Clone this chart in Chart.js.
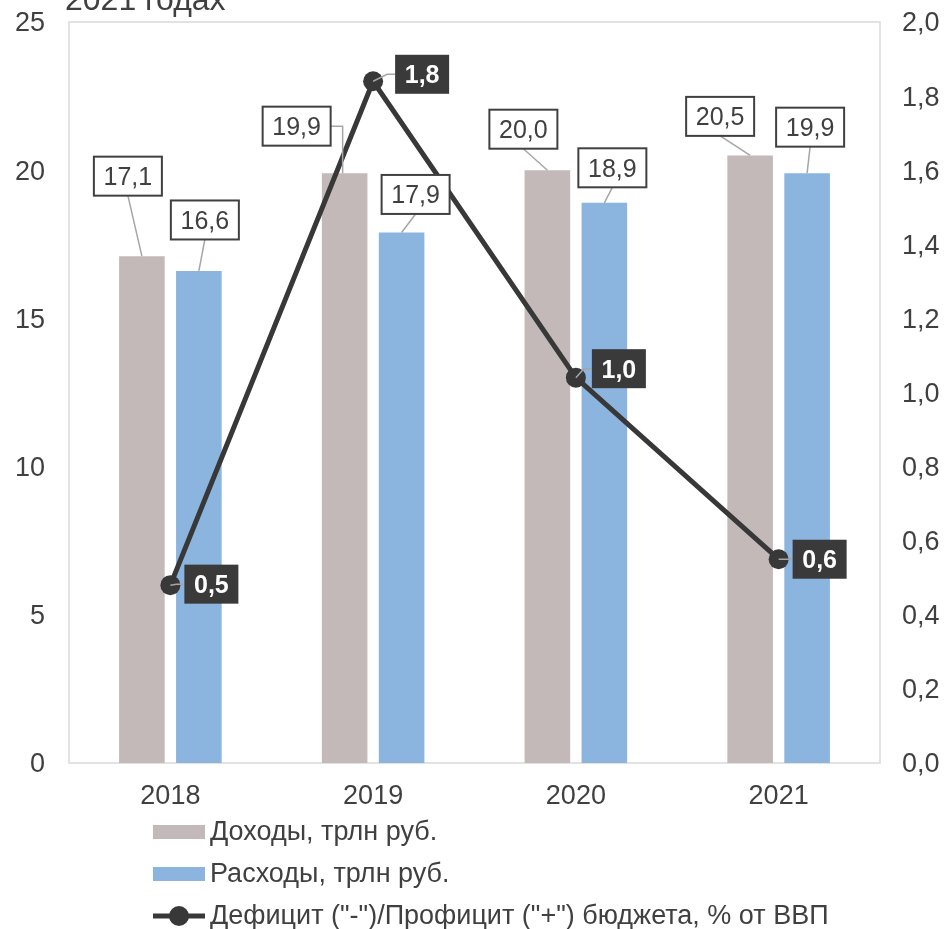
<!DOCTYPE html>
<html>
<head>
<meta charset="utf-8">
<script src="https://cdn.jsdelivr.net/npm/chart.js@4/dist/chart.umd.min.js"></script>
<style>
  html, body { margin:0; padding:0; background:#fff; }
  canvas { display:block; }
</style>
</head>
<body>
<canvas id="chart" width="945" height="929"></canvas>
<script>
// data
const years = ['2018', '2019', '2020', '2021'];
const revenue = [17.1, 19.9, 20.0, 20.5];      // Доходы, трлн руб.
const spending = [16.6, 17.9, 18.9, 19.9];     // Расходы, трлн руб.
const balance = [0.48, 1.84, 1.04, 0.55];      // % от ВВП
const leftTicks = [0, 5, 10, 15, 20, 25];
const rightTicks = [0, 0.2, 0.4, 0.6, 0.8, 1.0, 1.2, 1.4, 1.6, 1.8, 2.0];

const seriesNames = ['Доходы, трлн руб.', 'Расходы, трлн руб.', 'Дефицит ("-")/Профицит ("+") бюджета, % от ВВП'];

// label box offsets (box centre relative to the mark)
const revenueLabelShift = [[-14, -80], [-48, -47], [-24, -41], [-30, -39]];
const spendingLabelShift = [[6, -51], [14, -38], [8, -35], [3, -46]];
const balanceLabelShift = [[41, -1], [49, -7], [43, -9], [41, 0]];

const FONT = '"Liberation Sans", Arial, sans-serif';
const TEXT = '#404040';
const comma = v => v.toFixed(1).replace('.', ',');

// plot frame + cut title
const framePlugin = {
  id: 'frame',
  beforeDatasetsDraw(chart){
    const {ctx, chartArea:a} = chart;
    ctx.save();
    ctx.strokeStyle = '#d9d9d9'; ctx.lineWidth = 1.5;
    ctx.strokeRect(a.left, a.top, a.right - a.left, a.bottom - a.top);
    ctx.restore();
  },
  afterDraw(chart){
    const ctx = chart.ctx;
    ctx.save();
    ctx.fillStyle = TEXT; ctx.font = '32px ' + FONT;
    ctx.textBaseline = 'alphabetic'; ctx.textAlign = 'left';
    ctx.fillText('2021 годах', 65, 10);
    ctx.restore();
  }
};

// boxed value labels with leader lines
const labelPlugin = {
  id: 'boxLabels',
  afterDatasetsDraw(chart){
    const ctx = chart.ctx;
    ctx.save();
    ctx.textAlign = 'center'; ctx.textBaseline = 'middle';
    const shifts = [revenueLabelShift, spendingLabelShift, balanceLabelShift];
    chart.data.datasets.forEach((ds, di) => {
      const meta = chart.getDatasetMeta(di);
      const dark = ds.type === 'line';
      ctx.font = (dark ? 'bold ' : '') + '25px ' + FONT;
      meta.data.forEach((el, i) => {
        const txt = comma(ds.data[i]);
        const w = dark ? 54 : 68, h = 39;
        const cx = el.x + shifts[di][i][0], cy = el.y + shifts[di][i][1];
        const left = cx - w/2, top = cy - h/2;
        // leader
        ctx.strokeStyle = '#a6a6a6'; ctx.lineWidth = 1.5;
        ctx.beginPath();
        if(dark){
          ctx.moveTo(el.x, el.y); ctx.lineTo(left - 8, cy); ctx.lineTo(left, cy);
        } else if(left + w < el.x - 5){
          ctx.moveTo(left + w, cy); ctx.lineTo(el.x - 2, cy); ctx.lineTo(el.x - 2, el.y);
        } else {
          ctx.moveTo(cx, top + h); ctx.lineTo(el.x, el.y);
        }
        ctx.stroke();
        // box
        if(dark){
          ctx.fillStyle = '#3a3a3a'; ctx.fillRect(left, top, w, h);
          ctx.fillStyle = '#fff';
        } else {
          ctx.fillStyle = '#fff'; ctx.fillRect(left, top, w, h);
          ctx.strokeStyle = '#404040'; ctx.lineWidth = 2; ctx.strokeRect(left, top, w, h);
          ctx.fillStyle = TEXT;
        }
        ctx.fillText(txt, cx, cy + 2);
      });
    });
    ctx.restore();
  }
};

// vertical legend under the axis
const legendPlugin = {
  id: 'vLegend',
  afterDraw(chart){
    const ctx = chart.ctx;
    ctx.save();
    ctx.font = '27px ' + FONT; ctx.textBaseline = 'middle'; ctx.textAlign = 'left';
    chart.data.datasets.forEach((ds, i) => {
      const y = 832 + i * 42;
      if(ds.type === 'line'){
        ctx.strokeStyle = ds.borderColor; ctx.lineWidth = 5;
        ctx.beginPath(); ctx.moveTo(153, y); ctx.lineTo(205, y); ctx.stroke();
        ctx.fillStyle = ds.borderColor;
        ctx.beginPath(); ctx.arc(179, y, 10, 0, Math.PI*2); ctx.fill();
      } else {
        ctx.fillStyle = ds.backgroundColor;
        ctx.fillRect(153, y - 7, 52, 14);
      }
      ctx.fillStyle = TEXT;
      ctx.fillText(ds.label, 210, y + 1);
    });
    ctx.restore();
  }
};

// fixed axis sizes so the plot box sits where it does in the picture
function fixY(width){
  return s => { s.width = width; s.paddingTop = 0; s.paddingBottom = 0; };
}

new Chart(document.getElementById('chart'), {
  type: 'bar',
  data: {
    labels: years,
    datasets: [
      { label: seriesNames[0], data: revenue, backgroundColor: '#c3b9b9', yAxisID: 'y', order: 1,
        categoryPercentage: 0.562, barPercentage: 0.8 },
      { label: seriesNames[1], data: spending, backgroundColor: '#8bb4df', yAxisID: 'y', order: 1,
        categoryPercentage: 0.562, barPercentage: 0.8 },
      { type: 'line', label: seriesNames[2], data: balance, yAxisID: 'y1', order: 0,
        borderColor: '#383838', backgroundColor: '#383838', borderWidth: 5, tension: 0,
        pointRadius: 10, pointBackgroundColor: '#383838', pointBorderWidth: 0 }
    ]
  },
  options: {
    responsive: false,
    animation: false,
    layout: { padding: { top: 22, bottom: 116, left: 0, right: 0 } },
    plugins: { legend: { display: false }, tooltip: { enabled: false }, title: { display: false } },
    scales: {
      x: {
        grid: { display: false, drawTicks: false },
        border: { display: false },
        ticks: { color: TEXT, font: { family: FONT, size: 27 }, padding: 17 },
        afterFit: s => { s.height = 50; s.paddingLeft = 0; s.paddingRight = 0; }
      },
      y: {
        position: 'left', min: 0, max: 25,
        grid: { display: false, drawTicks: false },
        border: { display: false },
        afterBuildTicks: s => { s.ticks = leftTicks.map(v => ({ value: v })); },
        ticks: { color: TEXT, font: { family: FONT, size: 27 }, padding: 24, labelOffset: 2 },
        afterFit: fixY(69)
      },
      y1: {
        position: 'right', min: 0, max: 2,
        grid: { display: false, drawTicks: false },
        border: { display: false },
        afterBuildTicks: s => { s.ticks = rightTicks.map(v => ({ value: v })); },
        ticks: { color: TEXT, font: { family: FONT, size: 27 }, padding: 22, labelOffset: 2, callback: v => comma(v) },
        afterFit: fixY(65)
      }
    }
  },
  plugins: [framePlugin, labelPlugin, legendPlugin]
});
</script>
</body>
</html>
